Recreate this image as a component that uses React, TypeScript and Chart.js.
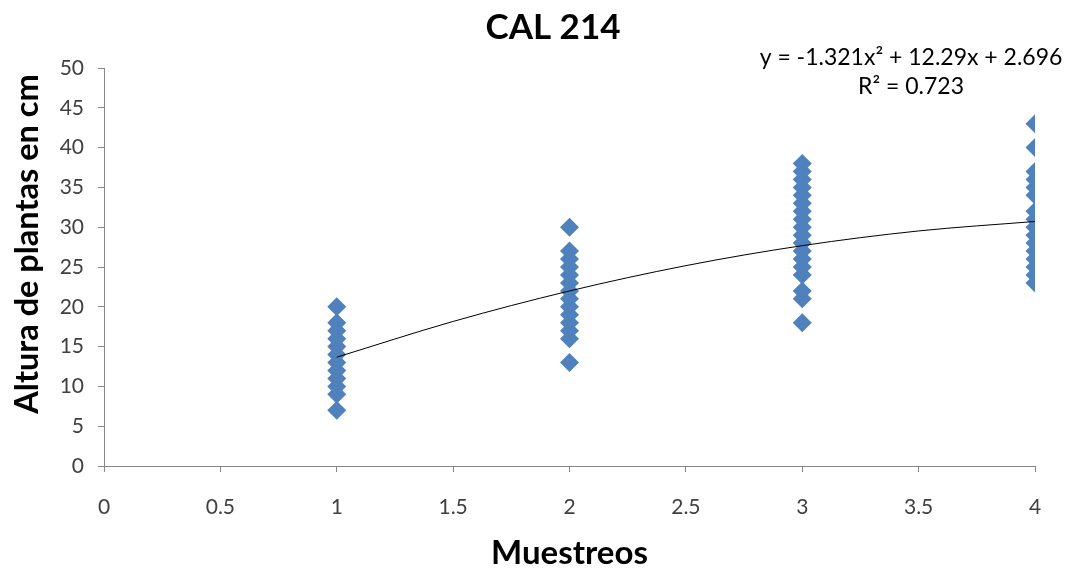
import React, { useEffect, useRef } from "react";
import { Chart, registerables } from "chart.js";

Chart.register(...registerables);

const muestreo1: number[] = [7, 9, 10, 11, 12, 13, 14, 15, 16, 17, 18, 20];
const muestreo2: number[] = [13, 16, 17, 18, 19, 20, 21, 22, 23, 24, 25, 26, 27, 30];
const muestreo3: number[] = [18, 21, 22, 24, 25, 26, 27, 28, 29, 30, 31, 32, 33, 34, 35, 36, 37, 38];
const muestreo4: number[] = [23, 24, 25, 26, 27, 28, 29, 30, 31, 32, 34, 35, 36, 37, 40, 43];

const trendX: number[] = [1, 1.5, 2, 2.5, 3, 3.5, 4];
const trendY: number[] = [13.67, 18.16, 21.99, 25.17, 27.68, 29.53, 30.72];

const chartTitle = "CAL 214";
const equationText = "y = -1.321x\u00B2 + 12.29x + 2.696";
const r2Text = "R\u00B2 = 0.723";
const xTitle = "Muestreos";
const yTitle = "Altura de plantas en cm";

export default function App() {
  const ref = useRef<HTMLCanvasElement | null>(null);

  useEffect(() => {
    if (!ref.current) return;
    const points: { x: number; y: number }[] = [];
    [muestreo1, muestreo2, muestreo3, muestreo4].forEach((arr, i) => {
      arr.forEach((v) => points.push({ x: i + 1, y: v }));
    });
    const trend = trendX.map((x, i) => ({ x, y: trendY[i] }));

    const textPlugin = {
      id: "texts",
      afterDraw(chart: any) {
        const ctx = chart.ctx;
        ctx.save();
        ctx.fillStyle = "#000";
        ctx.textAlign = "center";
        ctx.textBaseline = "middle";
        ctx.font = "bold 35px Lato";
        ctx.fillText(chartTitle, 553, 28);
        ctx.font = "23px Lato";
        ctx.fillText(equationText, 911, 58);
        ctx.fillText(r2Text, 911, 87);
        ctx.save();
        ctx.translate(28, 244);
        ctx.rotate(-Math.PI / 2);
        ctx.font = "bold 32.5px Lato";
        ctx.fillText(yTitle, 0, 0);
        ctx.restore();
        ctx.restore();
      },
    };

    const chart = new Chart(ref.current, {
      type: "scatter",
      data: {
        datasets: [
          {
            type: "line",
            data: trend,
            showLine: true,
            borderColor: "#000",
            borderWidth: 1,
            pointRadius: 0,
            cubicInterpolationMode: "monotone",
            fill: false,
            order: 0,
          } as any,
          {
            data: points,
            pointStyle: "rectRot",
            pointRadius: 9.5,
            backgroundColor: "#4F81BD",
            borderColor: "#4F81BD",
            borderWidth: 0,
            order: 1,
          },
        ],
      },
      options: {
        responsive: false,
        animation: false,
        layout: { padding: { top: 68, right: 32, left: 0, bottom: 0 } },
        plugins: {
          legend: { display: false },
          tooltip: { enabled: false },
          title: { display: false },
        },
        scales: {
          x: {
            type: "linear",
            min: 0,
            max: 4,
            afterFit: (s: any) => {
              s.height = 107;
            },
            ticks: {
              stepSize: 0.5,
              padding: 23,
              color: "#404040",
              font: { family: "Lato", size: 21 },
              callback: (v: any) => String(v),
            },
            grid: {
              drawOnChartArea: false,
              drawTicks: true,
              tickLength: 6,
              color: "#868686",
            },
            border: { color: "#868686" },
            title: {
              display: true,
              text: xTitle,
              color: "#000",
              font: { family: "Lato", size: 33, weight: "bold" },
              padding: { top: 0, bottom: 0 },
            },
          },
          y: {
            min: 0,
            max: 50,
            afterFit: (s: any) => {
              s.width = 104;
            },
            ticks: {
              stepSize: 5,
              padding: 14,
              color: "#404040",
              font: { family: "Lato", size: 21 },
            },
            grid: {
              drawOnChartArea: false,
              drawTicks: true,
              tickLength: 6,
              color: "#868686",
            },
            border: { color: "#868686" },
            title: { display: false },
          },
        },
      },
      plugins: [textPlugin],
    });
    return () => chart.destroy();
  }, []);

  return (
    <div style={{ position: "absolute", left: 0, top: 0, width: 1067, height: 573, background: "#fff" }}>
      <canvas ref={ref} width={1067} height={573} style={{ display: "block" }} />
    </div>
  );
}
